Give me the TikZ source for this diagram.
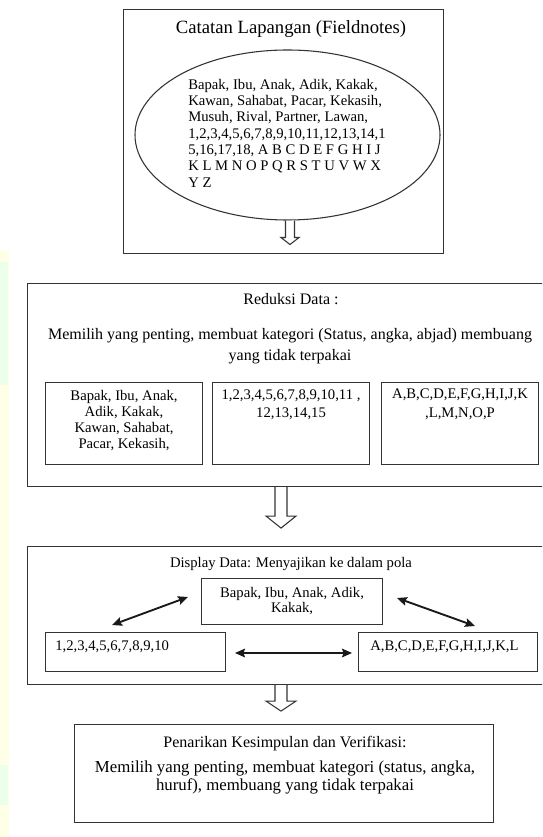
\documentclass[tikz,border=0pt]{standalone}
\usepackage{fontspec}
\setmainfont{Liberation Serif}
\usetikzlibrary{arrows.meta,calc,shapes.geometric}
\newcommand\px{0.75pt}
% hollow block arrow: #1 start coordinate, #2 total length, #3 head length, #4 shaft half width, #5 head half width
\newcommand\hollowarr[5]{%
  \draw[harrow] ($(#1)+(-#4,0)$) -- ++(0,#2-#3) -- ++(#4-#5,0) -- ($(#1)+(0,#2)$)
    -- ($(#1)+(#5,#2-#3)$) -- ++(#4-#5,0) -- ($(#1)+(#4,0)$);}
\tikzset{
  box/.style={draw=black!80, line width=0.8pt, rectangle, inner sep=0pt, anchor=north west},
  harrow/.style={draw=black!80, line width=0.8pt, fill=white, line join=miter},
  dbl/.style={draw=black!90, line width=1.4pt, {Stealth[length=7.5pt,width=6.5pt,inset=1.2pt]}-{Stealth[length=7.5pt,width=6.5pt,inset=1.2pt]}},
  t12/.style={inner sep=0pt, font=\fontsize{12}{14}\selectfont},
  t11/.style={inner sep=0pt, font=\fontsize{11}{13}\selectfont},
}
\begin{document}
\begin{tikzpicture}[x=0.75pt, y=-0.75pt]
\useasboundingbox (0,0) rectangle (542,837);
\clip (0,0) rectangle (542,837);
\fill[white] (0,0) rectangle (542,837);
% faint background strip at left edge
\fill[yellow!10] (0,250) rectangle (9,837);
\fill[green!8] (0,262) rectangle (8,385);
\fill[green!8] (0,765) rectangle (8,805);

% ---------- Catatan Lapangan ----------
\node[box, minimum width=320*\px, minimum height=244*\px] (top) at (123,9) {};
\node[t12, font=\fontsize{14}{16}\selectfont, anchor=base] (toptitle) at (291,34) {Catatan Lapangan (Fieldnotes)};
\node[draw=black!80, line width=0.8pt, ellipse, inner sep=0pt, minimum width=305*\px, minimum height=170*\px] (ell) at (287.5,135) {};
\node[inner sep=0pt, anchor=north west, align=left, font=\fontsize{11}{12.2}\selectfont] (elltxt) at (188,79)
  {Bapak, Ibu, Anak, Adik, Kakak,\\
   Kawan, Sahabat, Pacar, Kekasih,\\
   Musuh, Rival, Partner, Lawan,\\
   1,2,3,4,5,6,7,8,9,10,11,12,13,14,1\\
   5,16,17,18, A B C D E F G H I J\\
   K L M N O P Q R S T U V W X\\
   Y Z};

% ---------- Reduksi Data ----------
\node[box, minimum width=533*\px, minimum height=203*\px] (red) at (27,283) {};
\node[t12, anchor=base] (redtitle) at (291,305) {Reduksi Data :};
\node[t12, anchor=north, align=center, font=\fontsize{12}{15.75}\selectfont] (redtxt) at (290,328)
  {Memilih yang penting, membuat kategori (Status, angka, abjad) membuang\\ yang tidak terpakai};
\node[box, minimum width=157*\px, minimum height=82*\px] (r1) at (45,382) {};
\node[box, minimum width=157*\px, minimum height=82*\px] (r2) at (212,382) {};
\node[box, minimum width=157*\px, minimum height=82*\px] (r3) at (381,382) {};
\node[t11, anchor=north, align=center, font=\fontsize{11}{12}\selectfont] (r1txt) at (r1.north |- 0,390)
  {Bapak, Ibu, Anak,\\ Adik, Kakak,\\ Kawan, Sahabat,\\ Pacar, Kekasih,};
\node[t11, anchor=north, align=center, font=\fontsize{11}{14}\selectfont] (r2txt) at (r2.north |- 0,389)
  {1,2,3,4,5,6,7,8,9,10,11 ,\\ 12,13,14,15};
\node[t11, anchor=north, align=center, font=\fontsize{11}{14}\selectfont] (r3txt) at (r3.north |- 0,389)
  {A,B,C,D,E,F,G,H,I,J,K\\ ,L,M,N,O,P};

% ---------- Display Data ----------
\node[box, minimum width=533*\px, minimum height=138*\px] (disp) at (27,546) {};
\node[t11, anchor=base] (disptitle) at (291,567) {Display Data: Menyajikan ke dalam pola};
\node[box, minimum width=181*\px, minimum height=46*\px] (dc) at (201,578) {};
\node[box, minimum width=180*\px, minimum height=39*\px] (dl) at (45,632) {};
\node[box, minimum width=179*\px, minimum height=39*\px] (dr) at (358,632) {};
\node[t11, anchor=north, align=center, font=\fontsize{11}{11.25}\selectfont] (dctxt) at (dc.north |- 0,587)
  {Bapak, Ibu, Anak, Adik,\\ Kakak,};
\node[t11, anchor=base west] (dltxt) at (55,650) {1,2,3,4,5,6,7,8,9,10};
\node[t11, anchor=base west] (drtxt) at (370,650) {A,B,C,D,E,F,G,H,I,J,K,L};
\coordinate (pl1) at (112,625);
\coordinate (pl2) at (188,597);
\coordinate (pr1) at (397,598);
\coordinate (pr2) at (475,626);
\coordinate (pm1) at (235,653);
\coordinate (pm2) at (352,653);
\draw[dbl] (pl1) -- (pl2);
\draw[dbl] (pr1) -- (pr2);
\draw[dbl] (pm1) -- (pm2);

% ---------- Penarikan Kesimpulan ----------
\node[box, minimum width=419*\px, minimum height=98*\px] (fin) at (74,724) {};
\node[t12, anchor=base] (fintitle) at (285,747) {Penarikan Kesimpulan dan Verifikasi:};
\node[t12, anchor=north, align=center, font=\fontsize{12.6}{13.5}\selectfont] (fintxt) at (285,761)
  {Memilih yang penting, membuat kategori (status, angka,\\ huruf), membuang yang tidak terpakai};

% ---------- hollow arrows ----------
\coordinate (x290) at (290,0);
\coordinate (x281) at (281,0);
\coordinate (a1) at (ell.south -| x290);
\coordinate (a2) at (red.south -| x281);
\coordinate (a3) at (disp.south -| x281);
\hollowarr{a1}{24}{7}{4.5}{9}
\hollowarr{a2}{41}{12}{6}{15}
\hollowarr{a3}{26}{10}{6}{15}
\end{tikzpicture}
\end{document}
